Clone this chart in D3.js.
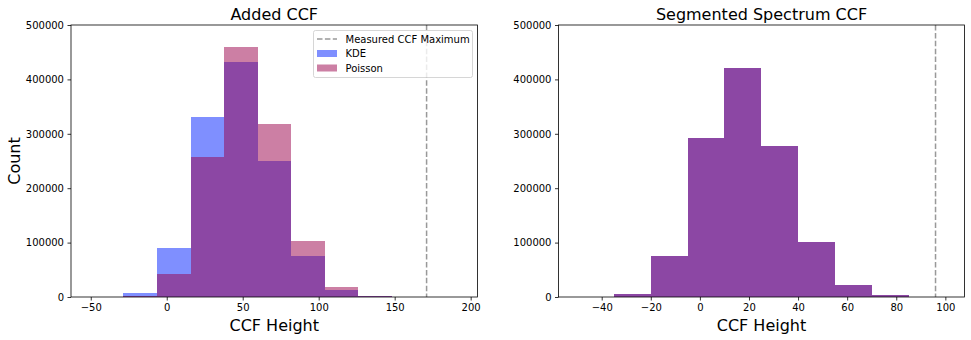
<!DOCTYPE html>
<html>
<head>
<meta charset="utf-8">
<script src="https://cdn.jsdelivr.net/npm/d3@7"></script>
<style>
  body { margin: 0; background: #fff; }
  svg text { font-family: "DejaVu Sans", sans-serif; fill: #000; }
</style>
</head>
<body>
<svg id="chart" width="971" height="340"></svg>
<script>
// data
const addedEdges = [-28.5, -6.4, 15.8, 37.9, 60.0, 82.0, 104.1, 126.1, 148.2];
const addedKde = [7300, 90000, 331000, 432000, 250000, 75500, 13500, 1800];
const addedPoisson = [2500, 42500, 257000, 459500, 318000, 103000, 18500, 2000];
const addedMax = 171;

const segEdges = [-35, -20, -5, 10, 25, 40, 55, 70, 85];
const segCounts = [5500, 75500, 292000, 421000, 277500, 101000, 22000, 3700];
const segMax = 96;

const yTicks = [0, 100000, 200000, 300000, 400000, 500000];
const addedXTicks = [-50, 0, 50, 100, 150, 200];
const segXTicks = [-40, -20, 0, 20, 40, 60, 80, 100];

const kdeColor = "#0020ff";
const poissonColor = "#990049";

const svg = d3.select("#chart");

function panel(opts) {
  const g = svg.append("g");
  const x = d3.scaleLinear().domain(opts.xDomain).range([opts.left, opts.right]);
  const y = d3.scaleLinear().domain([0, 500000]).range([297, 25]);

  // histograms (rounded edges so neighbouring bins don't leave seams)
  opts.series.forEach(s => {
    g.append("g").selectAll("rect")
      .data(s.values)
      .enter().append("rect")
      .attr("x", (d, i) => Math.round(x(opts.edges[i])))
      .attr("width", (d, i) => Math.round(x(opts.edges[i + 1])) - Math.round(x(opts.edges[i])))
      .attr("y", d => Math.round(y(d)))
      .attr("height", d => 297 - Math.round(y(d)))
      .attr("fill", s.color)
      .attr("fill-opacity", 0.5)
      .attr("shape-rendering", "crispEdges");
  });

  // measured maximum
  g.append("line")
    .attr("x1", x(opts.maxLine)).attr("x2", x(opts.maxLine))
    .attr("y1", 25).attr("y2", 297)
    .attr("stroke", "#808080")
    .attr("stroke-opacity", 0.8)
    .attr("stroke-width", 1.5)
    .attr("stroke-dasharray", "5.5,2.4");

  // axes
  const xAxis = g.append("g").attr("transform", "translate(0,297)")
    .call(d3.axisBottom(x).tickValues(opts.xTicks).tickSize(3.5).tickPadding(3.5)
      .tickFormat(d => d < 0 ? "\u2212" + Math.abs(d) : d));
  const yAxis = g.append("g").attr("transform", `translate(${opts.left},0)`)
    .call(d3.axisLeft(y).tickValues(yTicks).tickSize(3.5).tickPadding(3.5)
      .tickFormat(d3.format("d")));
  [xAxis, yAxis].forEach(a => {
    a.select(".domain").remove();
    a.selectAll("line").attr("stroke", "#000").attr("stroke-width", 0.8);
    a.selectAll("text").style("font-size", "10px").attr("fill", "#000");
  });

  // frame
  g.append("rect")
    .attr("x", opts.left).attr("y", 25)
    .attr("width", opts.right - opts.left).attr("height", 272)
    .attr("fill", "none").attr("stroke", "#000").attr("stroke-width", 0.8);

  const cx = (opts.left + opts.right) / 2;
  g.append("text").attr("x", cx).attr("y", 20)
    .attr("text-anchor", "middle").style("font-size", "16px").text(opts.title);
  g.append("text").attr("x", cx).attr("y", 331)
    .attr("text-anchor", "middle").style("font-size", "16px").text("CCF Height");
  return { g, x, y };
}

panel({
  left: 71, right: 477.5,
  xDomain: [-63, 204.5],
  edges: addedEdges,
  series: [{ values: addedKde, color: kdeColor }, { values: addedPoisson, color: poissonColor }],
  maxLine: addedMax,
  xTicks: addedXTicks,
  title: "Added CCF"
});

panel({
  left: 558.5, right: 964.5,
  xDomain: [-57.6, 107.8],
  edges: segEdges,
  series: [{ values: segCounts, color: kdeColor }, { values: segCounts, color: poissonColor }],
  maxLine: segMax,
  xTicks: segXTicks,
  title: "Segmented Spectrum CCF"
});

svg.append("text")
  .attr("transform", "translate(20,161) rotate(-90)")
  .attr("text-anchor", "middle")
  .style("font-size", "16px")
  .text("Count");

// legend
const legend = svg.append("g");
legend.append("rect")
  .attr("x", 313.5).attr("y", 30.5).attr("width", 159).attr("height", 47)
  .attr("rx", 2)
  .attr("fill", "#fff").attr("fill-opacity", 0.8)
  .attr("stroke", "#ccc").attr("stroke-width", 0.8);
legend.append("line")
  .attr("x1", 317).attr("x2", 337).attr("y1", 39).attr("y2", 39)
  .attr("stroke", "#808080").attr("stroke-opacity", 0.8)
  .attr("stroke-width", 1.5).attr("stroke-dasharray", "5.5,2.4");
const patches = [{ label: "KDE", color: kdeColor }, { label: "Poisson", color: poissonColor }];
legend.selectAll(".patch")
  .data(patches)
  .enter().append("rect")
  .attr("x", 317).attr("y", (d, i) => 50 + i * 14.5)
  .attr("width", 20).attr("height", 7)
  .attr("fill", d => d.color).attr("fill-opacity", 0.5);
const labels = ["Measured CCF Maximum", "KDE", "Poisson"];
legend.selectAll(".lbl")
  .data(labels)
  .enter().append("text")
  .attr("x", 345.5).attr("y", (d, i) => 42.5 + i * 14.5)
  .style("font-size", "10px")
  .text(d => d);
</script>
</body>
</html>
